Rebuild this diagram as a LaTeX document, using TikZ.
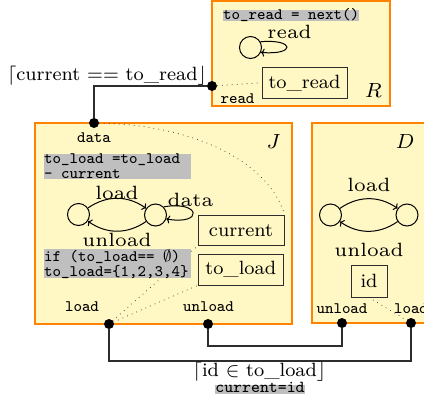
\RequirePackage{fix-cm}
\documentclass[tikz,border=0pt]{standalone}
\usetikzlibrary{arrows.meta}
\definecolor{boxfill}{RGB}{255,247,196}
\definecolor{boxline}{RGB}{255,130,0}
\definecolor{labgray}{RGB}{191,191,191}
\definecolor{ink}{RGB}{45,45,45}
\newcommand{\bigtxt}[1]{\scalebox{3.2}{\fontsize{6}{7}\selectfont #1}}
\newcommand{\vartxt}[1]{\scalebox{2.4}{\fontsize{8}{9}\selectfont #1}}
\newcommand{\tttxt}[1]{\scalebox{2}{\ttfamily\fontsize{8}{8}\selectfont #1}}
\newcommand{\nametxt}[1]{\scalebox{2.56}{\fontsize{8}{9}\selectfont $#1$}}
\newcommand{\notetxt}[1]{\scalebox{2}{\parbox[t]{73.5pt}{\ttfamily\fontsize{8}{7.5}\selectfont\lineskiplimit=-4pt #1}}}
\begin{document}
\begin{tikzpicture}[x=1pt,y=1pt,
 comp/.style={draw=boxline, fill=boxfill, line width=2pt, rectangle, inner sep=0},
 port/.style={circle, fill=black, inner sep=0, minimum size=10pt},
 state/.style={circle, draw=black, line width=1pt, minimum size=22pt, inner sep=0},
 var/.style={draw=ink, line width=0.9pt, rectangle, inner sep=0},
 txt/.style={inner sep=0},
 note/.style={fill=labgray, inner sep=0},
 shortnote/.style={note, text height=9pt, text depth=2pt},
 conn/.style={draw=ink, line width=1.2pt},
 dots/.style={draw=ink, line width=1pt, line cap=round, dash pattern=on 0pt off 5pt},
 arr/.style={draw=black, line width=1pt, -{To[length=3.5pt,width=8pt]}},
 ]
\clip (0,0) rectangle (424,-400);
% components
\node[comp, minimum width=178pt, minimum height=104.5pt] (R) at (301,-53.25) {};
\node[comp, minimum width=257pt, minimum height=201pt] (J) at (163.5,-223.5) {};
\node[comp, minimum width=138.5pt, minimum height=200.5pt] (D) at (380.75,-222.75) {};
% component names
\node[txt] (Rn) at (373.5,-90) {\nametxt{R}};
\node[txt] (Jn) at (273.5,-141) {\nametxt{J}};
\node[txt] (Dn) at (405,-141) {\nametxt{D}};
% ports
\node[port] (Rread) at (212,-86) {};
\node[port] (Jdata) at (94,-123) {};
\node[port] (Jload) at (109,-324) {};
\node[port] (Junload) at (208,-324) {};
\node[port] (Dunload) at (342,-323) {};
\node[port] (Dload) at (411,-323) {};
% port labels
\node[txt, anchor=base] (lRread) at (237.5,-103) {\tttxt{read}};
\node[txt, anchor=base] (lJdata) at (94,-142.5) {\tttxt{data}};
\node[txt, anchor=base] (lJload) at (82,-311.5) {\tttxt{load}};
\node[txt, anchor=base] (lJunload) at (208.5,-311.5) {\tttxt{unload}};
\node[txt, anchor=base] (lDunload) at (342,-313) {\tttxt{unload}};
\node[txt, anchor=base] (lDload) at (411,-313) {\tttxt{load}};
% variables
\node[var, minimum width=85pt, minimum height=31.5pt] (toread) at (304.5,-82.75) {\vartxt{to\_read}};
\node[var, minimum width=86pt, minimum height=30.5pt] (current) at (241,-230.25) {\vartxt{current}};
\node[var, minimum width=85.5pt, minimum height=31pt] (toload) at (240.75,-269.5) {\vartxt{to\_load}};
\node[var, minimum width=36pt, minimum height=32pt] (id) at (369,-281) {\vartxt{id}};
% states
\node[state] (r1) at (250.5,-47.5) {};
\node[state] (j1) at (78.5,-214.5) {};
\node[state] (j2) at (155.5,-215) {};
\node[state] (d1) at (330.5,-215) {};
\node[state] (d2) at (407,-215) {};
% transitions
\draw[arr] (r1.30) .. controls +(5:35) and +(-5:35) .. (r1.-25);
\node[txt, anchor=base] (lread) at (289.5,-38) {\bigtxt{read}};
\draw[arr] (j1) to[bend left=35] (j2);
\draw[arr] (j2) to[bend left=35] (j1);
\draw[arr] (j2.45) .. controls +(10:38) and +(-10:38) .. (j2.-20);
\node[txt, anchor=base] (ljload) at (117,-199) {\bigtxt{load}};
\node[txt, anchor=base] (ljunload) at (117,-246.5) {\bigtxt{unload}};
\node[txt, anchor=base] (ljdata) at (190.5,-206) {\bigtxt{data}};
\draw[arr] (d1) to[bend left=35] (d2);
\draw[arr] (d2) to[bend left=35] (d1);
\node[txt, anchor=base] (ldload) at (369,-191.5) {\bigtxt{load}};
\node[txt, anchor=base] (ldunload) at (369,-256.5) {\bigtxt{unload}};
% dotted associations
\draw[dots] (Rread) -- (toread.west);
\draw[dots] (Jdata) .. controls (200,-125) and (270,-165) .. (current.north east);
\draw[dots] (Jload) -- (current.south west);
\draw[dots] (Jload) -- (toload.south west);
\draw[dots] (id.south) -- (Dload);
% notes
\node[shortnote, anchor=north west] (nR) at (223,-10) {\tttxt{to\_read = next()}};
\node[note, anchor=north west] (nJ1) at (44,-154) {\notetxt{to\_load =to\_load\\- current}};
\node[note, anchor=north west] (nJ2) at (44,-249) {\notetxt{if (to\_load== $\emptyset$)\\to\_load=\{1,2,3,4\}}};
% connectors
\draw[conn] (Rread) -| (Jdata);
\node[txt, anchor=base] (g1) at (107,-80) {\vartxt{$\lceil$current == to\_read$\rfloor$}};
\coordinate (bu) at (208,-346);
\coordinate (bl) at (109,-361);
\draw[conn] (Junload) -- (bu) -| (Dunload);
\draw[conn] (Jload) -- (bl) -| (Dload);
\node[txt, anchor=base] (g2) at (259.5,-376.5) {\vartxt{$\lceil$id $\in$ to\_load$\rfloor$}};
\node[note, text height=7pt, text depth=1.5pt] (g2a) at (260,-389.5) {\scalebox{2.1}{\ttfamily\fontsize{8}{8}\selectfont current=id}};
\end{tikzpicture}
\end{document}
